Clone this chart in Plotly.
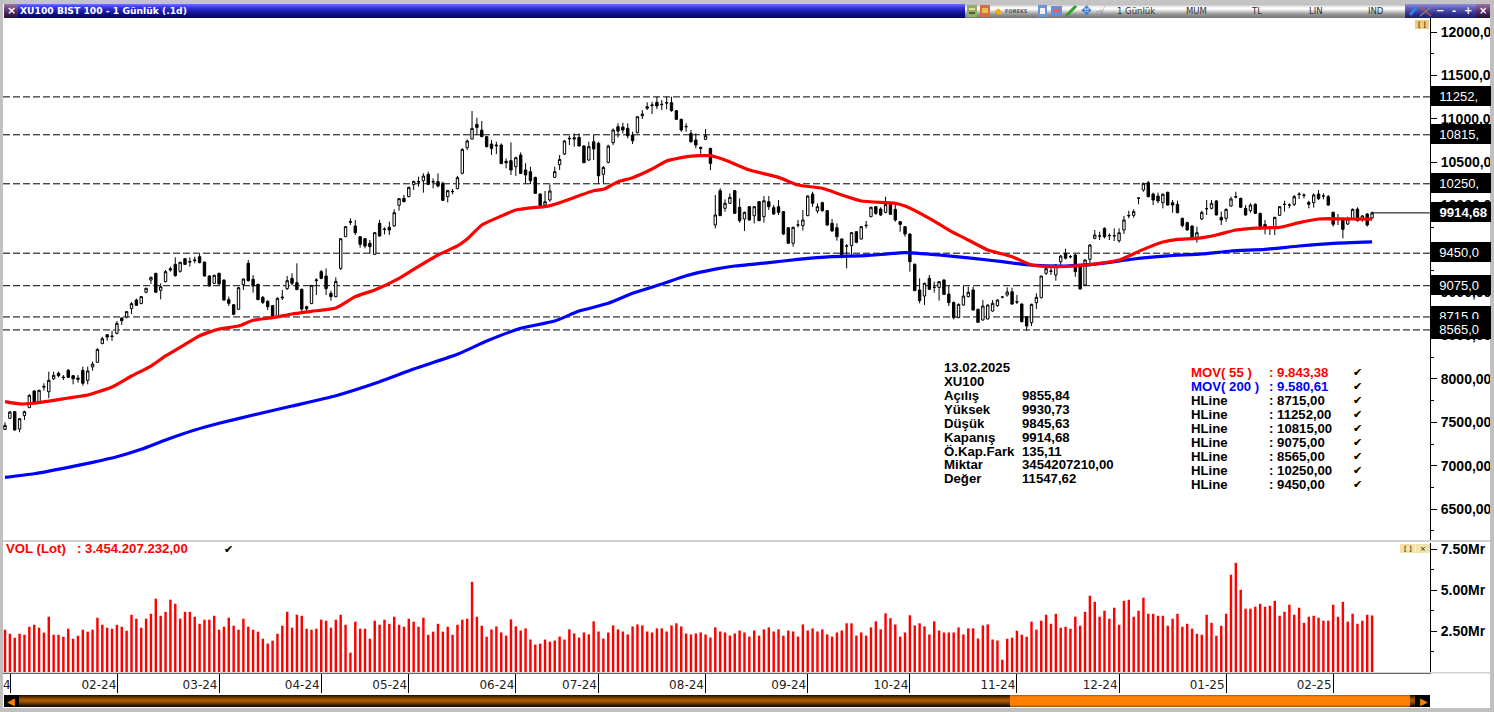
import plotly.graph_objects as go

W, H = 1494, 712

# ---------- data ----------
candles_a = [
(7419,7500,7412,7465),(7546,7630,7538,7619),(7623,7627,7411,7411),(7423,7550,7385,7542),(7577,7634,7527,7623),
(7669,7823,7669,7811),(7861,7870,7730,7730),(7738,7876,7730,7869),(7915,7950,7865,7907),(7853,8084,7777,7984),
(8003,8084,7988,8042),(8065,8084,8019,8038),(8022,8045,7988,8015),(8099,8115,8011,8019),(8038,8045,7938,8003),
(8011,8045,7957,7996),(8099,8142,7923,7950),(7984,8142,7938,8092),(8138,8200,8096,8172),(8192,8353,8192,8341),
(8407,8487,8403,8464),(8510,8518,8441,8484),(8495,8557,8441,8491),(8526,8668,8514,8641),(8703,8710,8622,8672),
(8714,8783,8699,8776),(8810,8887,8749,8868),(8910,8926,8841,8849),(8868,8956,8864,8949),(9000,9052,8987,9045),
(9141,9179,9095,9172),(9218,9222,8995,9000),(9022,9102,8918,9064),(9122,9256,9114,9237),(9271,9295,9237,9256),
(9321,9402,9179,9191),(9241,9352,9225,9345),(9387,9391,9314,9321),(9356,9402,9295,9348),(9364,9410,9333,9371),
(9410,9441,9333,9341),(9348,9352,9179,9187),(9187,9195,9068,9072),(9102,9202,9100,9195),(9218,9225,9087,9095),
(9141,9145,8903,8910),(8914,8949,8841,8872),(8856,8860,8737,8745),(8803,9060,8795,9052),(9087,9160,9026,9152),
(9333,9371,9122,9133),(9149,9198,8995,9072),(9091,9098,8910,8914),(8941,8956,8864,8883),(8895,8906,8795,8833),
(8845,8853,8710,8714),(8714,8941,8710,8929),(8945,9026,8910,8937),(9041,9187,9026,9133),(9160,9218,9079,9102),
(9110,9333,9025,9030),(9033,9045,8776,8806),(8833,8845,8764,8810),(8868,9083,8864,9079),(9133,9160,8968,9141),
(9237,9256,9149,9160),(9187,9275,8968,9041),(8987,9018,8903,8949),(8949,9172,8941,9125),(9275,9622,9256,9617),
]
candles_b = [
(9640,9760,9637,9756),(9814,9852,9775,9808),(9764,9833,9660,9687),(9640,9645,9514,9552),(9617,9622,9506,9533),
(9564,9602,9448,9525),(9437,9687,9430,9687),(9794,9833,9640,9648),(9729,9748,9667,9725),(9748,9814,9660,9717),
(9764,9956,9756,9917),(10002,10082,9940,10079),(10082,10121,10036,10044),(10102,10217,10094,10209),(10240,10286,10179,10278),
(10275,10332,10217,10271),(10286,10371,10148,10340),(10359,10390,10236,10244),(10275,10313,10198,10271),(10275,10371,10209,10225),
(10255,10275,10052,10059),(10102,10179,10036,10171),(10163,10190,10129,10160),(10194,10340,10186,10321),(10371,10659,10359,10647),
(10666,10762,10639,10743),(10766,11089,10762,10889),(10935,11012,10812,10900),(10870,10974,10793,10793),(10793,10801,10670,10678),
(10708,10755,10582,10658),(10697,10735,10593,10689),(10697,10716,10482,10482),(10509,10543,10428,10493),(10516,10728,10351,10409),
(10447,10562,10340,10551),(10582,10612,10362,10370),(10409,10486,10255,10351),(10389,10447,10247,10286),(10324,10332,10132,10140),
(10132,10140,9994,9998),(10005,10167,9994,10044),(10063,10243,10044,10167),(10324,10447,10324,10390),(10470,10582,10409,10531),
(10593,10755,10582,10743),(10774,10804,10697,10770),(10781,10831,10678,10766),(10785,10831,10685,10685),(10685,10697,10493,10493),
(10524,10735,10516,10678),(10735,10812,10524,10651),(10716,10735,10255,10343),(10359,10455,10255,10439),(10497,10700,10485,10685),
(10724,10889,10697,10870),(10908,10947,10785,10858),(10904,10954,10831,10870),(10889,10947,10774,10804),(10812,10851,10708,10747),
(10839,11031,10831,11023),(11035,11100,10997,11054),(11120,11189,11100,11139),(11150,11196,11054,11158),(11189,11254,11112,11147),
(11162,11216,11100,11166),(11181,11254,11108,11185),(11185,11254,11081,11093),(11093,11100,10985,10993),(10993,11000,10851,10870),
(10912,10947,10851,10908),(10831,10870,10724,10735),(10755,10831,10658,10697),(10670,10678,10582,10658),(10762,10881,10758,10804),
(10658,10666,10409,10485),
]
candles_c = [
(9775,10121,9736,9890),(10171,10198,9883,9883),(9967,10071,9929,10025),(10025,10140,10017,10094),(10171,10179,9902,9909),
(9979,10082,9802,9825),(9844,9929,9706,9921),(9986,9994,9825,9833),(9882,9994,9794,9986),(10044,10052,9821,9825),
(9871,10109,9802,10055),(10044,10109,9948,9986),(9975,10005,9890,9902),(9986,10063,9890,9921),(9929,9936,9660,9671),
(9744,9748,9562,9564),(9564,9756,9525,9748),(9775,9833,9748,9775),(9767,9948,9710,9833),(9882,10117,9879,10109),
(10132,10159,9986,10025),(9936,10025,9909,9986),(10032,10044,9929,9940),(9940,9948,9767,9775),(9794,9844,9698,9706),
(9744,9794,9594,9640),(9614,9621,9391,9421),(9532,9556,9275,9533),(9537,9694,9429,9687),(9698,9706,9564,9575),
(9613,9764,9610,9756),(9767,9821,9736,9771),(9871,9986,9863,9979),(9986,9994,9890,9909),(9959,9979,9879,9890),
(9921,10102,9909,10013),(10025,10036,9890,9898),(9955,10025,9813,9833),(9813,9821,9698,9782),(9756,9763,9640,9671),
(9671,9679,9237,9352),(9321,9333,9018,9018),(9026,9160,8872,8903),(8956,9110,8853,9102),(9160,9198,9026,9033),
(9056,9122,8995,9056),(9056,9129,8903,9122),(9141,9149,8968,8975),(8979,9072,8841,8880),(8883,8891,8687,8707),
(8710,8871,8699,8860),(8852,9072,8845,8956),(8949,9064,8941,8999),(9026,9064,8787,8795),(8803,8810,8649,8653),
(8680,8910,8672,8841),(8691,8860,8687,8852),(8783,8910,8776,8872),(8845,8918,8833,8910),(8945,8956,8930,8945),
(8968,9056,8949,9002),(9006,9052,8853,8864),(8891,8968,8864,8887),(8864,8872,8653,8660),(8718,8726,8557,8610),
(8649,8868,8610,8860),(8879,8987,8806,8941),(8937,9187,8929,9187),(9218,9283,9198,9271),(9240,9283,9198,9245),
(9198,9325,9133,9314),(9352,9429,9306,9417),(9448,9502,9379,9391),(9410,9429,9390,9410),(9429,9441,9179,9237),
(9313,9321,9033,9037),(9083,9379,9075,9372),(9379,9556,9295,9544),(9621,9717,9610,9660),(9648,9698,9602,9648),
]
candles_d = [
(9736,9748,9621,9640),(9655,9679,9602,9652),(9652,9736,9590,9650),(9594,9736,9571,9686),(9717,9879,9671,9833),
(9879,9940,9852,9885),(9886,9956,9859,9929),(10082,10094,10013,10086),(10178,10263,10159,10255),(10263,10282,10094,10102),
(10132,10148,10005,10063),(10109,10148,10025,10052),(10032,10140,9967,10129),(10152,10159,10000,10005),(10032,10063,9917,10005),
(10013,10055,9909,9917),(9852,9859,9748,9767),(9802,9813,9710,9717),(9763,9771,9613,9621),(9633,9756,9571,9686),
(9844,9940,9832,9921),(9963,10063,9890,9963),(9967,10063,9955,10025),(10052,10063,9886,9890),(9863,9929,9775,9833),
(9852,9967,9813,9955),(9994,10102,9986,10075),(10102,10159,10082,10098),(10082,10090,9971,9979),(9967,10005,9882,9890),
(9940,10025,9917,10005),(10013,10025,9902,9909),(9909,9917,9717,9756),(9782,9833,9667,9736),(9736,9756,9660,9736),
(9756,9871,9660,9863),(9886,9994,9879,9986),(10013,10055,9929,10013),(10005,10025,9967,10005),(10013,10121,9994,10102),
(10132,10152,10075,10128),(10121,10140,10082,10117),(10036,10055,9967,10013),(10032,10140,9975,10121),(10132,10178,10063,10078),
(10109,10140,10071,10109),(10102,10121,9994,10005),(9921,9929,9756,9783),(9844,9902,9775,9844),(9833,9852,9621,9725),
(9786,9871,9775,9844),(9844,9967,9833,9955),(9959,9979,9813,9825),(9833,9890,9813,9879),(9902,9909,9756,9775),
(9855.84,9930.73,9845.63,9914.68),
]

volume_mr = [
2.58,2.33,2.09,2.33,2.27,2.76,2.88,2.70,2.40,3.37, 2.27,2.27,2.15,2.64,2.03,2.21,2.58,2.46,2.58,3.31,
2.88,2.70,2.64,2.88,2.76,2.52,3.49,3.25,2.70,3.25, 3.55,4.47,3.43,3.67,4.41,4.16,3.25,3.67,3.67,3.37,
2.94,3.19,3.19,3.43,2.58,2.76,3.31,2.82,2.58,3.25, 2.76,2.58,2.46,2.03,1.73,1.91,2.33,2.82,3.67,2.70,
3.49,3.43,2.64,2.58,2.64,3.19,3.13,2.70,3.19,3.49, 2.88,1.18,3.07,2.64,2.64,2.03,3.13,2.88,3.19,2.94,
3.37,2.88,2.76,3.25,3.07,2.76,3.31,2.27,2.46,2.94, 2.46,2.76,2.27,2.88,3.19,3.25,5.50,3.37,2.82,2.15,
2.60,2.78,2.41,2.22,3.21,2.78,2.53,2.66,1.98,1.67, 1.73,1.98,1.85,1.92,2.16,1.98,2.60,2.35,2.10,2.41,
2.29,3.09,2.47,2.04,2.41,2.84,2.60,2.47,2.29,2.78, 2.90,2.84,2.47,2.41,2.66,2.66,2.47,2.84,2.97,2.78,
2.35,2.29,2.35,2.41,2.29,2.10,2.72,2.47,2.41,2.22, 2.35,2.53,2.41,2.16,2.53,2.22,2.60,2.72,2.47,2.60,
2.22,2.53,2.47,2.16,2.90,2.53,2.66,2.47,2.60,2.29, 2.16,2.41,2.53,2.97,2.97,2.22,2.41,2.22,2.72,3.09,
2.60,3.58,3.28,2.90,2.16,2.41,3.46,2.84,2.97,2.78, 2.29,3.09,2.53,2.41,2.41,2.41,2.72,2.29,2.66,2.66,
2.04,2.84,2.90,1.98,1.92,
0.75,2.03,2.09,2.52,2.27,2.15,3.07,2.58,3.13,3.49, 2.94,3.55,2.70,2.76,2.64,3.37,2.82,3.67,4.65,4.28,
3.37,3.74,3.25,3.92,2.88,4.34,4.41,3.37,3.74,4.53, 3.55,3.55,3.43,3.43,2.82,3.25,3.55,2.76,2.94,2.64,
2.33,2.27,3.49,3.00,2.21,2.82,3.55,5.93,6.66,5.01, 3.86,3.86,3.98,4.16,3.98,4.04,4.34,3.43,3.67,4.10,
3.49,3.92,3.00,3.37,3.43,3.31,3.13,3.13,4.10,3.37, 4.28,3.07,3.55,2.94,3.13,3.49,3.45,
]

mov55_bar = [0,3,6,9,13,17,22,26,30,33,37,40,44,48,51,55,59,63,68,72,76,81,84,89,93,95,98,102,105,109,111,114,118,121,123,126,129,133,136,139,141,145,148,153,159,163,168,172,176,183,185,190,194,198,202,207,211,215,220,224,229,231,234,238,241,245,249,253,257,262,266,270,272,277,281]
mov55_val = [7738,7712,7720,7745,7780,7815,7907,8034,8149,8265,8399,8499,8576,8610,8676,8707,8749,8780,8818,8949,9026,9160,9264,9429,9533,9613,9775,9878,9947,9978,9986,10032,10113,10170,10186,10274,10320,10420,10512,10551,10570,10574,10524,10409,10324,10236,10198,10121,10052,10025,9994,9852,9717,9602,9487,9410,9314,9295,9302,9325,9371,9418,9494,9579,9610,9621,9660,9717,9740,9748,9802,9844,9848,9844,9843.38]
mov200_bar = [0,6,13,18,23,28,33,39,44,51,59,68,77,84,93,99,106,113,118,124,129,135,140,146,150,157,163,170,177,185,192,199,205,211,218,225,232,239,246,252,259,266,273,281]
mov200_val = [6866,6907,6981,7039,7103,7189,7296,7411,7489,7584,7688,7807,7968,8114,8284,8437,8584,8668,8783,8872,8987,9094,9190,9267,9302,9341,9379,9410,9421,9456,9429,9391,9352,9314,9302,9329,9383,9418,9441,9475,9494,9533,9564,9580.61]

hlines = [11252, 10815, 10250, 9450, 9075, 8715, 8565]
hline_labels = ["11252,", "10815,", "10250,", "9450,0", "9075,0", "8715,0", "8565,0"]
last_close = 9914.68

price_ticks = [6500,7000,7500,8000,8500,9000,9500,10000,10500,11000,11500,12000]
price_tick_labels = ["6500,00","7000,00","7500,00","8000,00","8500,00","9000,00","9500,00","10000,00","10500,00","11000,00","11500,00","12000,00"]
vol_ticks = [2.5, 5, 7.5]
vol_tick_labels = ["2.50Mr", "5.00Mr", "7.50Mr"]
month_bar = [1.03,23.2,44,65,83,105,122,144,165,186,208,229,251,273]
month_labels = ["","02-24","03-24","04-24","05-24","06-24","07-24","08-24","09-24","10-24","11-24","12-24","01-25","02-25"]

info_labels = ["13.02.2025","XU100","Açılış","Yüksek","Düşük","Kapanış","Ö.Kap.Fark","Miktar","Değer"]
info_values = ["","","9855,84","9930,73","9845,63","9914,68","135,11","3454207210,00","11547,62"]
legend_names = ["MOV( 55 )","MOV( 200 )","HLine","HLine","HLine","HLine","HLine","HLine","HLine"]
legend_values = [": 9.843,38",": 9.580,61",": 8715,00",": 11252,00",": 10815,00",": 9075,00",": 8565,00",": 10250,00",": 9450,00"]
legend_colors = ["#ff0000","#0000ff","#000000","#000000","#000000","#000000","#000000","#000000","#000000"]

# ---------- derived ----------
candles = candles_a + candles_b + candles_c + candles_d
bars = list(range(len(candles)))
opens = [c[0] for c in candles]
highs = [c[1] for c in candles]
lows = [c[2] for c in candles]
closes = [c[3] for c in candles]

BAR0_PX, BAR_PX = 5.0, 4.865
PLOT_L, PLOT_R = 3, 1430
xrange_ = [(PLOT_L - BAR0_PX) / BAR_PX, (PLOT_R - BAR0_PX) / BAR_PX]

def xp(px): return px / W
def yp(py): return 1 - py / H

ARIAL = "Liberation Sans"
VERD = "DejaVu Sans"
shapes, notes = [], []

def rect(x0, y0, x1, y1, fill, layer="above"):
    shapes.append(dict(type="rect", xref="paper", yref="paper", x0=xp(x0), x1=xp(x1), y0=yp(y0), y1=yp(y1),
                       fillcolor=fill, line=dict(width=0), layer=layer))

def strips(x0, y0, x1, colours):
    for k, c in enumerate(colours):
        rect(x0, y0 + k, x1, y0 + k + 1, c)

def txt(px, py, s, size=13.2, color="#000000", family=ARIAL, bold=True, anchor="left"):
    t = f"<b>{s}</b>" if bold else s
    notes.append(dict(xref="paper", yref="paper", x=xp(px), y=yp(py), text=t, showarrow=False, xanchor=anchor, yanchor="middle",
                      font=dict(family=family, size=size, color=color), borderpad=0, borderwidth=0))

def check(px, py):
    txt(px + 0.8, py + 0.6, "✔", size=11, color="#d8b030", family=VERD, bold=False, anchor="center")
    txt(px, py, "✔", size=11, color="#000000", family=VERD, bold=False, anchor="center")

# dashed horizontal levels
for v in hlines:
    shapes.append(dict(type="line", xref="paper", yref="y", x0=xp(PLOT_L), x1=xp(PLOT_R), y0=v, y1=v,
                       line=dict(color="#000000", width=1, dash="7px,3px"), layer="below"))
# last-close line
shapes.append(dict(type="line", xref="x", yref="y", x0=bars[-1], x1=xrange_[1], y0=last_close, y1=last_close,
                   line=dict(color="#000000", width=1), layer="above"))

# separators
rect(PLOT_L, 540, 1490, 542, "#d0d0d0")
rect(PLOT_L, 672, 1490, 673.5, "#d0d0d0")

# title bar
BLUE = ["#6a6af2","#5656ee","#4646e6","#3a3adc","#3030d0","#2828c4","#2222b6","#1c1ca8","#16169a","#12128c","#0e0e80","#0a0a74","#080868","#06065c"]
SILV = ["#c0c0c0","#d4d4d4","#e8e8e8","#f6f6f6","#ffffff","#f4f4f4","#e0e0e0","#cccccc","#b8b8b8","#a4a4a4","#949494","#8a8a8a","#808080","#787878"]
PURP = ["#8a8ad8","#7c7cd0","#7070c8","#6666c0","#5c5cb8","#5454b0","#4c4ca8","#4444a0","#3c3c98","#343490","#2c2c88","#282880","#242478","#202070"]
RED_P = ["#9a70a0","#8e6498","#845a90","#7a5088","#704880","#684078","#603870","#583068","#502860","#482058","#402050","#381848","#301840","#281038"]
strips(4, 4, 965, BLUE)
strips(4, 4, 18, RED_P)
strips(965, 4, 1405, SILV)
strips(1405, 4, 1476, PURP)
strips(1476, 4, 1490, RED_P)
txt(11, 10.5, "×", size=11, color="#ffffff", family=VERD, anchor="center")
txt(20, 10.5, "XU100 BIST 100 - 1 Günlük (.1d)", size=9.2, color="#ffffff", family=VERD)
# toolbar labels
for px, s in ((1136, "1 Günlük"), (1196, "MUM"), (1256, "TL"), (1316, "LIN"), (1376, "IND")):
    txt(px, 10.5, s, size=8.5, color="#333333", family=VERD, bold=False, anchor="center")
# toolbar icons
rect(967, 5, 977, 17, "#8fae6a"); rect(969, 8, 975, 10, "#e8d890"); rect(969, 12, 975, 14, "#506030")
rect(980, 5, 990, 17, "#d86a4a"); rect(982, 8, 988, 13, "#e8c050")
txt(998, 10.5, "◆", size=9, color="#f0b000", family=VERD, bold=False, anchor="center")
txt(1005, 10.5, "FOREKS", size=5, color="#555555", family=VERD)
rect(1038, 5, 1047, 17, "#6c94d8"); rect(1040, 8, 1045, 14, "#f0f0f0")
rect(1051, 6, 1062, 16, "#6c8cd8"); rect(1053, 9, 1060, 12, "#e06060")
shapes.append(dict(type="line", xref="paper", yref="paper", x0=xp(1066), x1=xp(1076), y0=yp(16), y1=yp(6),
                   line=dict(color="#30a030", width=3), layer="above"))
txt(1086, 10.5, "✥", size=13, color="#3878d8", family=VERD, bold=False, anchor="center")
txt(1100, 10.5, "-√", size=9, color="#8090a8", family=VERD, bold=False, anchor="center")
shapes.append(dict(type="line", xref="paper", yref="paper", x0=xp(1410), x1=xp(1417), y0=yp(15), y1=yp(7),
                   line=dict(color="#3080e0", width=3), layer="above"))
shapes.append(dict(type="line", xref="paper", yref="paper", x0=xp(1420), x1=xp(1431), y0=yp(7), y1=yp(16),
                   line=dict(color="#c05040", width=1.5), layer="above"))
shapes.append(dict(type="line", xref="paper", yref="paper", x0=xp(1420), x1=xp(1431), y0=yp(16), y1=yp(7),
                   line=dict(color="#808080", width=1.5), layer="above"))
for px, s in ((1440, "−"), (1454, "-"), (1468, "+"), (1483, "×")):
    txt(px, 10.5, s, size=10, color="#ffffff", family=VERD, anchor="center")

# small yellow buttons
rect(1415, 20, 1429, 29, "#e8d080"); txt(1422, 24.5, "[ ]", size=7, family=VERD, bold=False, anchor="center")
rect(1400, 544, 1415, 553, "#f0e2a8"); txt(1407.5, 548.5, "[ ]", size=7, family=VERD, bold=False, anchor="center")
rect(1415.5, 544, 1430, 553, "#f0e2a8"); txt(1423, 548.5, "×", size=7, family=VERD, bold=False, anchor="center")

# scrollbar
BROWN = ["#2a1400","#4a2600","#6a3600","#8a4600","#a05200","#a85800","#a05200","#8a4600","#6a3600","#4a2600","#2a1400","#160a00"]
ORANGE = ["#c06000","#f07800","#ff8000","#ff8000","#ff8000","#ff8000","#ff8000","#ff8000","#ff8000","#ff8000","#e07000","#b05800"]
strips(19, 695, 1010, BROWN)
strips(1010, 695, 1410, ORANGE)
strips(1410, 695, 1415, BROWN)
rect(4, 695, 19, 707, "#000000")
rect(1415, 695, 1430, 707, "#000000")
txt(11, 701, "◀", size=10, color="#ff8000", family=VERD, bold=False, anchor="center")
txt(1423.5, 701, "▶", size=10, color="#ff8000", family=VERD, bold=False, anchor="center")

# window frame (also clips the long axis labels)
rect(0, 0, W, 4, "#c4c4c4")
rect(0, 0, 3, H, "#c0c0c0")
rect(1490, 0, W, H, "#c0c0c0")
rect(0, 708, W, H, "#c0c0c0")

# first month label is cut by the window edge: only its last digit shows
txt(6.5, 684.5, "4", size=12, color="#222222", family=VERD, bold=False, anchor="center")

# info block
for k, (a, b) in enumerate(zip(info_labels, info_values)):
    y = 367 + 14 * k
    txt(944, y, a)
    if b:
        txt(1022, y, b)
# legend block
for k, (n, v, c) in enumerate(zip(legend_names, legend_values, legend_colors)):
    y = 372 + 14 * k
    txt(1191, y, n, color=c)
    txt(1269, y, v, color=c)
    check(1357, y)
txt(6, 548, "VOL (Lot)", color="#ff0000")
txt(77, 548, ": 3.454.207.232,00", color="#ff0000")
check(228, 549)

# price boxes on the axis
def price_box(value, label, bold=False, size=13):
    t = f"<b>{label}</b>" if bold else label
    notes.append(dict(xref="paper", yref="y", x=xp(PLOT_R + 0.5), y=value, yshift=1, xanchor="left", yanchor="middle",
                      text="\u00a0\u00a0\u200a" + t, showarrow=False, align="left", width=59.5, height=20, bgcolor="#000000",
                      font=dict(family=ARIAL, size=size, color="#ffffff"), borderpad=0, borderwidth=0))
for v, s in zip(hlines, hline_labels):
    price_box(v, s)
price_box(last_close, "9914,68", bold=True, size=13.2)

# ---------- traces ----------
fig = go.Figure()
fig.add_trace(go.Candlestick(x=bars, open=opens, high=highs, low=lows, close=closes, xaxis="x", yaxis="y",
                             increasing=dict(line=dict(color="#000000", width=1), fillcolor="#ffffff"),
                             decreasing=dict(line=dict(color="#000000", width=1), fillcolor="#000000"),
                             whiskerwidth=0, showlegend=False, hoverinfo="skip"))
fig.add_trace(go.Scatter(x=mov200_bar, y=mov200_val, mode="lines", xaxis="x", yaxis="y", showlegend=False, hoverinfo="skip",
                         line=dict(color="#0000ff", width=3.2, shape="spline", smoothing=0.5)))
fig.add_trace(go.Scatter(x=mov55_bar, y=mov55_val, mode="lines", xaxis="x", yaxis="y", showlegend=False, hoverinfo="skip",
                         line=dict(color="#ff0000", width=3.2, shape="spline", smoothing=0.5)))
fig.add_trace(go.Bar(x=bars, y=volume_mr, xaxis="x2", yaxis="y2", width=0.5, marker=dict(color="#ff0000", line=dict(width=0)),
                     showlegend=False, hoverinfo="skip"))

PRICE_PER_PX = 500 / 43.37
fig.update_layout(
    width=W, height=H, margin=dict(l=0, r=0, t=0, b=0, pad=0, autoexpand=False),
    paper_bgcolor="#ffffff", plot_bgcolor="#ffffff", hovermode=False, dragmode=False, showlegend=False,
    shapes=shapes, annotations=notes, barmode="overlay",
    xaxis=dict(domain=[xp(PLOT_L), xp(PLOT_R)], range=xrange_, anchor="y", showgrid=False, zeroline=False, showticklabels=False,
               ticks="", showline=False, rangeslider=dict(visible=False), fixedrange=True),
    yaxis=dict(domain=[yp(541), yp(18)], range=[12000 - (541 - 32) * PRICE_PER_PX, 12000 + (32 - 18) * PRICE_PER_PX],
               anchor="x", side="right", showgrid=False, zeroline=False, showline=True, linecolor="#000000", linewidth=1,
               tickmode="array", tickvals=price_ticks, ticktext=price_tick_labels, ticks="outside", ticklen=6, tickcolor="#000000",
               tickfont=dict(family=ARIAL, size=14, color="#000000", weight="bold"), ticklabelstandoff=1, fixedrange=True,
               minor=dict(dtick=250, tick0=6500, ticks="outside", ticklen=3, tickcolor="#000000", showgrid=False)),
    xaxis2=dict(domain=[xp(PLOT_L), xp(PLOT_R)], range=xrange_, anchor="y2", showgrid=False, zeroline=False, showline=True,
                linecolor="#000000", linewidth=1, tickmode="array", tickvals=month_bar, ticktext=month_labels, ticks="outside",
                ticklen=19, tickcolor="#000000", tickangle=0, tickfont=dict(family=VERD, size=12, color="#222222"),
                ticklabelshift=-19, ticklabelstandoff=-18, fixedrange=True),
    yaxis2=dict(domain=[yp(673), yp(543)], range=[-1 * 2.5 / 41, 7.5 + 6 * 2.5 / 41], anchor="x2", side="right", showgrid=False,
                zeroline=False, showline=True, linecolor="#000000", linewidth=1, tickmode="array", tickvals=vol_ticks,
                ticktext=vol_tick_labels, ticks="outside", ticklen=6, tickcolor="#000000",
                tickfont=dict(family=ARIAL, size=14, color="#000000", weight="bold"), ticklabelstandoff=1, fixedrange=True,
                minor=dict(dtick=1.25, tick0=0, ticks="outside", ticklen=3, tickcolor="#000000", showgrid=False)),
)

fig.write_html("out.html", config={"displayModeBar": False},
               post_script="document.body.style.margin='0';document.body.style.overflow='hidden';")
